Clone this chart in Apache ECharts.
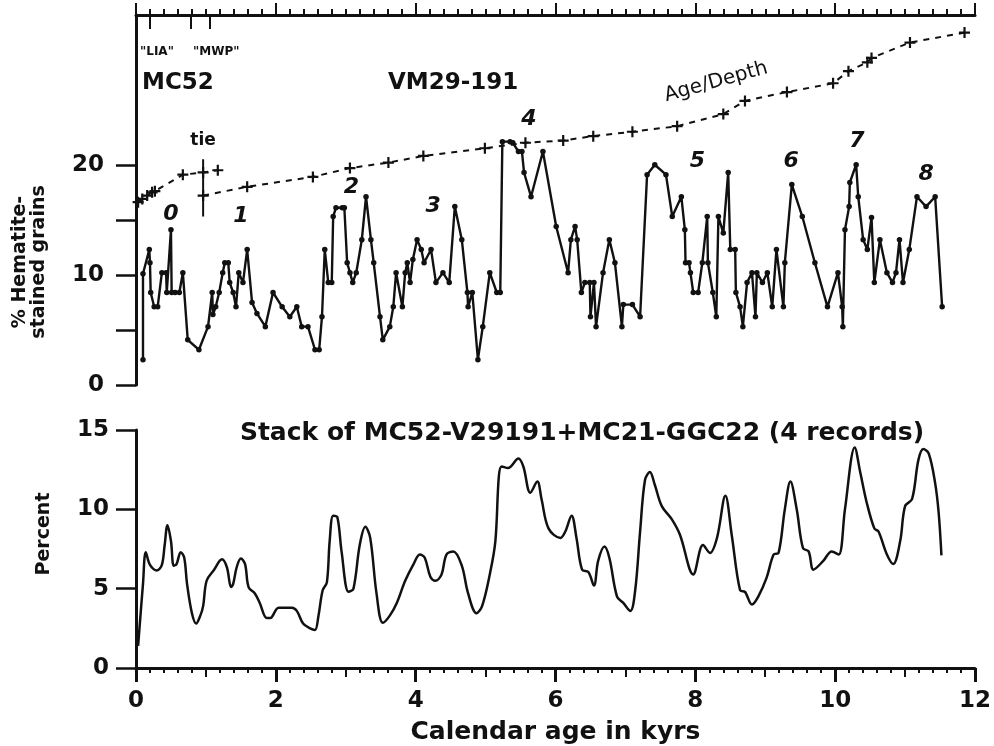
<!DOCTYPE html>
<html>
<head>
<meta charset="utf-8">
<script src="https://cdn.jsdelivr.net/npm/echarts@6/dist/echarts.min.js"></script>
<style>
  html, body { margin: 0; padding: 0; background: #fff; }
  #chart { width: 994px; height: 746px; }
</style>
</head>
<body>
<div id="chart"></div>
<script>
  // hematite-stained grains, VM29-191 / MC52  [age kyr, %]
  var hematite = [
    [0.10, 2.3], [0.10, 10.1], [0.19, 12.3], [0.20, 11.1], [0.21, 8.4], [0.26, 7.1], [0.31, 7.1],
    [0.37, 10.2], [0.43, 10.2], [0.44, 8.4], [0.50, 14.1], [0.51, 8.4], [0.56, 8.4], [0.62, 8.4],
    [0.67, 10.2], [0.74, 4.1], [0.90, 3.2], [1.03, 5.3], [1.09, 8.4], [1.10, 6.4], [1.14, 7.1],
    [1.19, 8.4], [1.24, 10.2], [1.27, 11.1], [1.32, 11.1], [1.34, 9.3], [1.39, 8.4], [1.43, 7.1],
    [1.47, 10.2], [1.53, 9.3], [1.59, 12.3], [1.66, 7.5], [1.73, 6.5], [1.85, 5.3], [1.96, 8.4],
    [2.09, 7.1], [2.20, 6.2], [2.30, 7.1], [2.37, 5.3], [2.46, 5.3], [2.56, 3.2], [2.62, 3.2],
    [2.66, 6.2], [2.70, 12.3], [2.75, 9.3], [2.80, 9.3], [2.82, 15.3], [2.86, 16.1], [2.95, 16.1],
    [2.98, 16.1], [3.02, 11.1], [3.06, 10.2], [3.10, 9.3], [3.15, 10.2], [3.23, 13.2], [3.29, 17.1],
    [3.36, 13.2], [3.40, 11.1], [3.49, 6.2], [3.53, 4.1], [3.63, 5.3], [3.68, 7.1], [3.72, 10.2],
    [3.81, 7.1], [3.85, 10.2], [3.88, 11.1], [3.92, 9.3], [3.96, 11.4], [4.02, 13.2], [4.08, 12.3],
    [4.12, 11.1], [4.22, 12.3], [4.29, 9.3], [4.39, 10.2], [4.48, 9.3], [4.56, 16.2], [4.66, 13.2],
    [4.74, 8.4], [4.75, 7.1], [4.81, 8.4], [4.89, 2.3], [4.96, 5.3], [5.06, 10.2], [5.16, 8.4],
    [5.21, 8.4], [5.24, 22.1], [5.35, 22.1], [5.39, 22.0], [5.47, 21.2], [5.52, 21.2], [5.55, 19.3],
    [5.65, 17.1], [5.82, 21.2], [6.01, 14.4], [6.18, 10.2], [6.22, 13.2], [6.28, 14.4], [6.31, 13.2],
    [6.37, 8.4], [6.42, 9.3], [6.49, 9.3], [6.50, 6.2], [6.55, 9.3], [6.58, 5.3], [6.68, 10.2],
    [6.77, 13.2], [6.85, 11.1], [6.95, 5.3], [6.97, 7.3], [7.10, 7.3], [7.21, 6.2], [7.31, 19.1],
    [7.42, 20.0], [7.58, 19.1], [7.67, 15.3], [7.80, 17.1], [7.85, 14.1], [7.86, 11.1], [7.91, 11.1],
    [7.93, 10.2], [7.97, 8.4], [8.04, 8.4], [8.10, 11.1], [8.17, 15.3], [8.18, 11.1], [8.25, 8.4],
    [8.30, 6.2], [8.33, 15.3], [8.40, 13.8], [8.47, 19.3], [8.50, 12.3], [8.57, 12.3], [8.58, 8.4],
    [8.64, 7.1], [8.68, 5.3], [8.74, 9.3], [8.81, 10.2], [8.86, 6.2], [8.88, 10.2], [8.96, 9.3],
    [9.03, 10.2], [9.10, 7.1], [9.16, 12.3], [9.26, 7.1], [9.28, 11.1], [9.38, 18.2], [9.53, 15.3],
    [9.71, 11.1], [9.89, 7.1], [10.04, 10.2], [10.10, 7.1], [10.11, 5.3], [10.14, 14.1], [10.20, 16.2],
    [10.21, 18.4], [10.30, 20.0], [10.33, 17.1], [10.40, 13.2], [10.46, 12.3], [10.52, 15.2],
    [10.56, 9.3], [10.64, 13.2], [10.74, 10.2], [10.82, 9.3], [10.87, 10.2], [10.92, 13.2],
    [10.97, 9.3], [11.06, 12.3], [11.17, 17.1], [11.30, 16.2], [11.43, 17.1], [11.53, 7.1]
  ]

  // age/depth tie points (drawn in the upper panel units)
  var ageDepthMC52 = [[0.03, 16.6], [0.09, 16.9], [0.16, 17.2], [0.23, 17.5], [0.27, 17.6],
    [0.67, 19.1], [0.96, 19.3], [1.17, 19.5]]
  var ageDepthVM29 = [[0.96, 17.2], [1.59, 18.0], [2.53, 18.9], [3.06, 19.7], [3.61, 20.2],
    [4.11, 20.8], [4.99, 21.5], [5.57, 22.0], [6.11, 22.2], [6.54, 22.6], [7.10, 23.0],
    [7.74, 23.5], [8.40, 24.6], [8.71, 25.8], [9.31, 26.6], [9.97, 27.4], [10.19, 28.5],
    [10.46, 29.3], [10.52, 29.7], [11.07, 31.1], [11.85, 32.0]]
  var tieLine = [[0.96, 15.3], [0.96, 20.5]]

  // event numbers 0-8  [age, y, label]
  var events = [[0.50, 15.5, '0'], [1.50, 15.3, '1'], [3.08, 18.0, '2'], [4.25, 16.2, '3'],
    [5.62, 24.1, '4'], [8.03, 20.3, '5'], [9.37, 20.3, '6'], [10.31, 22.1, '7'], [11.30, 19.1, '8']]

  // LIA / MWP markers on top axis (kyr)
  var climateTicks = [0.19, 0.79, 1.06]

  // stack of 4 records  [age kyr, percent]
  var stack = [
    [0.03, 1.4], [0.10, 5.3], [0.14, 7.3], [0.20, 6.5], [0.30, 6.15], [0.37, 6.5], [0.41, 7.75],
    [0.45, 9.0], [0.50, 8.0], [0.54, 6.45], [0.58, 6.55], [0.64, 7.3], [0.69, 6.95], [0.73, 5.3],
    [0.80, 3.45], [0.86, 2.8], [0.92, 3.3], [0.96, 3.9], [1.01, 5.5], [1.11, 6.15], [1.23, 6.85],
    [1.30, 6.35], [1.36, 5.1], [1.39, 5.3], [1.44, 6.35], [1.50, 6.9], [1.56, 6.55], [1.61, 5.1],
    [1.70, 4.7], [1.77, 4.1], [1.87, 3.15], [1.92, 3.15], [2.04, 3.8], [2.23, 3.8], [2.30, 3.6],
    [2.39, 2.8], [2.49, 2.5], [2.56, 2.4], [2.61, 3.3], [2.67, 4.9], [2.73, 5.4], [2.77, 8.0],
    [2.82, 9.6], [2.88, 9.5], [2.94, 7.35], [3.04, 4.8], [3.11, 5.0], [3.20, 7.75], [3.28, 8.9],
    [3.35, 8.2], [3.44, 4.7], [3.53, 2.85], [3.63, 3.3], [3.73, 4.1], [3.85, 5.5], [3.97, 6.55],
    [4.06, 7.15], [4.13, 6.95], [4.21, 5.75], [4.28, 5.5], [4.37, 5.9], [4.44, 7.15], [4.54, 7.35],
    [4.66, 6.45], [4.75, 4.7], [4.87, 3.45], [4.95, 3.9], [5.06, 5.9], [5.14, 8.0], [5.19, 12.1],
    [5.23, 12.7], [5.32, 12.6], [5.47, 13.2], [5.54, 12.7], [5.64, 11.05], [5.74, 11.75],
    [5.80, 10.65], [5.90, 8.8], [6.07, 8.2], [6.14, 8.6], [6.23, 9.6], [6.30, 8.2], [6.38, 6.2],
    [6.47, 6.05], [6.55, 5.2], [6.61, 6.75], [6.70, 7.65], [6.77, 6.95], [6.88, 4.5], [6.97, 4.1],
    [7.07, 3.6], [7.14, 4.9], [7.21, 8.6], [7.28, 11.85], [7.35, 12.35], [7.42, 11.55],
    [7.52, 10.2], [7.66, 9.4], [7.78, 8.4], [7.97, 5.9], [8.11, 7.75], [8.21, 7.25], [8.31, 8.2],
    [8.43, 10.85], [8.52, 8.4], [8.64, 4.9], [8.71, 4.8], [8.81, 4.0], [8.90, 4.5], [9.02, 5.7],
    [9.12, 7.15], [9.19, 7.25], [9.28, 10.0], [9.36, 11.75], [9.45, 10.0], [9.54, 7.55],
    [9.62, 7.35], [9.69, 6.2], [9.83, 6.75], [9.95, 7.35], [10.05, 7.15], [10.14, 10.0],
    [10.28, 13.9], [10.36, 12.3], [10.45, 10.45], [10.56, 8.8], [10.62, 8.6], [10.74, 7.15],
    [10.83, 6.55], [10.93, 8.0], [11.00, 10.2], [11.10, 10.65], [11.19, 13.1], [11.26, 13.8],
    [11.34, 13.5], [11.43, 11.65], [11.48, 9.8], [11.52, 7.1]
  ]

  var upperYTicks = [0, 5, 10, 15, 20]
  var upperYLabels = [0, 10, 20]

  var FONT = 'DejaVu Sans'
  var plusSymbol = 'path://M4,0H6V4H10V6H6V10H4V6H0V4H4Z'
  var black = '#111'

  var myChart = echarts.init(document.getElementById('chart'))
  myChart.setOption({
    animation: false,
    backgroundColor: '#fff',
    textStyle: { fontFamily: FONT, color: black },
    grid: [
      { left: 136, right: 19, top: 15, height: 370 },
      { left: 136, right: 19, top: 430, height: 243 }
    ],
    xAxis: [
      { gridIndex: 0, type: 'value', min: 0, max: 12, show: false },
      {
        gridIndex: 0, type: 'value', position: 'top', min: 0, max: 60, interval: 10,
        axisLine: { onZero: false, lineStyle: { color: black, width: 3 } },
        axisTick: { length: 12, lineStyle: { color: black, width: 2 } },
        minorTick: { show: true, splitNumber: 10, length: 6, lineStyle: { color: black, width: 2 } },
        axisLabel: { show: false },
        splitLine: { show: false }
      },
      {
        gridIndex: 0, type: 'value', position: 'top', min: 0, max: 12,
        axisLine: { show: false, onZero: false },
        axisTick: { inside: true, length: 14, customValues: climateTicks, lineStyle: { color: black, width: 2 } },
        axisLabel: { show: false },
        splitLine: { show: false }
      },
      {
        gridIndex: 1, type: 'value', position: 'bottom', min: 0, max: 12, interval: 1,
        axisLine: { onZero: false, lineStyle: { color: black, width: 3 } },
        axisTick: { length: 9, lineStyle: { color: black, width: 2 } },
        minorTick: { show: true, splitNumber: 5, length: 5, lineStyle: { color: black, width: 2 } },
        axisLabel: {
          margin: 22, fontSize: 23, fontWeight: 'bold', color: black, fontFamily: FONT,
          formatter: function (v) { return v % 2 === 0 ? String(v) : '' }
        },
        splitLine: { show: false },
        name: 'Calendar age in kyrs', nameLocation: 'middle', nameGap: 52,
        nameTextStyle: { fontSize: 25, fontWeight: 'bold', color: black, fontFamily: FONT }
      },
      {
        gridIndex: 1, type: 'value', position: 'bottom', min: 0, max: 12, interval: 2,
        axisLine: { show: false, onZero: false },
        axisTick: { length: 14, lineStyle: { color: black, width: 3 } },
        axisLabel: { show: false },
        splitLine: { show: false }
      }
    ],
    yAxis: [
      {
        gridIndex: 0, type: 'value', min: 0, max: 33.6, interval: 5,
        axisLine: { show: true, onZero: false, lineStyle: { color: black, width: 3 } },
        axisTick: { show: true, length: 20, customValues: upperYTicks, lineStyle: { color: black, width: 2.5 } },
        axisLabel: { customValues: upperYLabels, margin: 32, fontSize: 23, fontWeight: 'bold', color: black, fontFamily: FONT },
        splitLine: { show: false }
      },
      {
        gridIndex: 1, type: 'value', min: 0, max: 15, interval: 5,
        axisLine: { show: true, onZero: false, lineStyle: { color: black, width: 3 } },
        axisTick: { show: true, length: 20, lineStyle: { color: black, width: 2.5 } },
        axisLabel: { margin: 27, fontSize: 23, fontWeight: 'bold', color: black, fontFamily: FONT },
        splitLine: { show: false }
      }
    ],
    series: [
      {
        name: 'hematite', type: 'line', xAxisIndex: 0, yAxisIndex: 0,
        data: hematite, symbol: 'circle', symbolSize: 5.5,
        lineStyle: { color: black, width: 2.4 }, itemStyle: { color: black }
      },
      {
        name: 'ageDepthMC52', type: 'line', xAxisIndex: 0, yAxisIndex: 0,
        data: ageDepthMC52, symbol: plusSymbol, symbolSize: 11,
        lineStyle: { color: black, width: 2, type: [6, 6] }, itemStyle: { color: black }
      },
      {
        name: 'ageDepthVM29', type: 'line', xAxisIndex: 0, yAxisIndex: 0,
        data: ageDepthVM29, symbol: plusSymbol, symbolSize: 11,
        lineStyle: { color: black, width: 2, type: [6, 6] }, itemStyle: { color: black }
      },
      {
        name: 'tie', type: 'line', xAxisIndex: 0, yAxisIndex: 0,
        data: tieLine, showSymbol: false,
        lineStyle: { color: black, width: 2 }
      },
      {
        name: 'events', type: 'scatter', xAxisIndex: 0, yAxisIndex: 0,
        data: events, symbolSize: 0,
        itemStyle: { opacity: 1, color: black },
        label: {
          show: true, position: 'inside', fontSize: 22, fontWeight: 'bold', fontStyle: 'italic',
          color: black, fontFamily: FONT,
          formatter: function (p) { return p.data[2] }
        }
      },
      {
        name: 'stack', type: 'line', xAxisIndex: 3, yAxisIndex: 1,
        data: stack, showSymbol: false, smooth: 0.35,
        lineStyle: { color: black, width: 2.5 }
      }
    ],
    graphic: [
      { type: 'text', left: 140, top: 46, style: { text: '"LIA"', fontSize: 12, fontWeight: 'bold', fontFamily: FONT, fill: black } },
      { type: 'text', left: 193, top: 46, style: { text: '"MWP"', fontSize: 12, fontWeight: 'bold', fontFamily: FONT, fill: black } },
      { type: 'text', left: 142, top: 72, style: { text: 'MC52', fontSize: 23, fontWeight: 'bold', fontFamily: FONT, fill: black } },
      { type: 'text', left: 388, top: 72, style: { text: 'VM29-191', fontSize: 23, fontWeight: 'bold', fontFamily: FONT, fill: black } },
      {
        type: 'text', x: 716, y: 82, rotation: 0.27,
        style: { text: 'Age/Depth', fontSize: 20, fontFamily: FONT, fill: black, align: 'center', verticalAlign: 'middle' }
      },
      { type: 'text', x: 203, y: 141, style: { text: 'tie', fontSize: 17, fontWeight: 'bold', fontFamily: FONT, fill: black, align: 'center', verticalAlign: 'middle' } },
      {
        type: 'text', x: 30, y: 262, rotation: Math.PI / 2,
        style: { text: '% Hematite-\nstained grains', fontSize: 19, fontWeight: 'bold', lineHeight: 19, fontFamily: FONT, fill: black, align: 'center', verticalAlign: 'middle' }
      },
      {
        type: 'text', x: 44, y: 534, rotation: Math.PI / 2,
        style: { text: 'Percent', fontSize: 19, fontWeight: 'bold', fontFamily: FONT, fill: black, align: 'center', verticalAlign: 'middle' }
      },
      {
        type: 'text', x: 582, y: 433,
        style: { text: 'Stack of MC52-V29191+MC21-GGC22 (4 records)', fontSize: 25, fontWeight: 'bold', fontFamily: FONT, fill: black, align: 'center', verticalAlign: 'middle' }
      }
    ]
  })
</script>
</body>
</html>
